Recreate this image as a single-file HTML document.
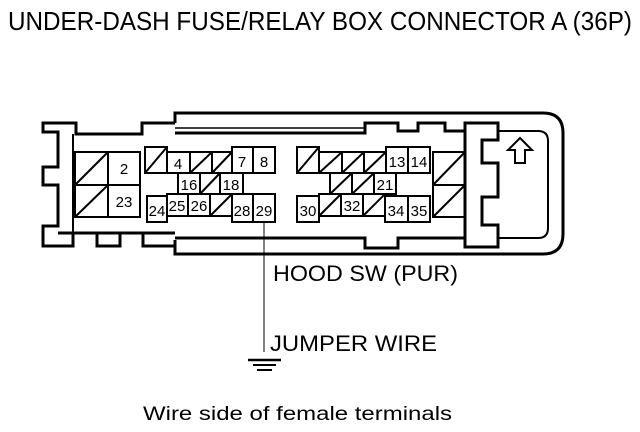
<!DOCTYPE html>
<html><head><meta charset="utf-8"><style>
html,body{margin:0;padding:0;background:#fff}
svg{display:block}
text{font-family:"Liberation Sans",sans-serif;fill:#000}
</style></head><body>
<svg width="640" height="432" viewBox="0 0 640 432" xmlns="http://www.w3.org/2000/svg">
<text x="8" y="30" font-size="26" textLength="624" lengthAdjust="spacingAndGlyphs">UNDER-DASH FUSE/RELAY BOX CONNECTOR A (36P)</text>
<g fill="none" stroke="#000" stroke-width="3" stroke-linejoin="miter">
<path d="M175,123 H142 V134 H76 V123 H43 V132 H58 V167 H43 V185 H58 V226 H43 V246 H73 V233 H97 V246 H120 V233 H143 V246 H175"/>
<line x1="73" y1="134" x2="73" y2="233" stroke-width="2"/>
<line x1="58" y1="233" x2="175" y2="233" stroke-width="3"/>
<path d="M175,123 V113 H543 Q563,113 563,133 V234 Q563,254 543,254 H175 V240"/>
<path d="M175,128 H365" stroke-width="1.5"/>
<path d="M175,133 H365 V123 H398 V131 H418 V123 H445 V131 H465 V123 H498 V140 H482 V163 H498 V197 H482 V225 H498 V247 H465 V238 H398 V248 H365 V238 H175"/>
<path d="M498,131 H538 Q548,131 548,141 V228 Q548,238 538,238 H498" stroke-width="2"/>
<line x1="465" y1="123" x2="465" y2="247"/>
</g>
<g fill="none" stroke="#000" stroke-width="2">
<rect x="75" y="152" width="65" height="65"/>
<line x1="108" y1="152" x2="108" y2="217"/><line x1="75" y1="185" x2="140" y2="185"/>
<line x1="75" y1="185" x2="108" y2="152"/><line x1="75" y1="217" x2="108" y2="185"/>
<rect x="433" y="152" width="32" height="65"/><line x1="433" y1="185" x2="465" y2="185"/>
<line x1="433" y1="185" x2="465" y2="152"/><line x1="433" y1="217" x2="465" y2="185"/>
<rect x="145" y="147" width="22" height="26"/><line x1="145" y1="173" x2="167" y2="147"/>
<rect x="167" y="152" width="23" height="21"/>
<rect x="190" y="152" width="22" height="21"/><line x1="190" y1="173" x2="212" y2="152"/>
<rect x="212" y="152" width="20" height="21"/><line x1="212" y1="173" x2="232" y2="152"/>
<rect x="232" y="147" width="21" height="26"/><rect x="253" y="147" width="22" height="26"/>
<rect x="178" y="173" width="22" height="21"/>
<rect x="200" y="173" width="20" height="21"/><line x1="200" y1="194" x2="220" y2="173"/>
<rect x="220" y="173" width="23" height="21"/>
<rect x="147" y="196" width="20" height="26"/>
<rect x="167" y="194" width="21" height="22"/><rect x="188" y="194" width="22" height="22"/>
<rect x="210" y="194" width="22" height="22"/><line x1="210" y1="216" x2="232" y2="194"/>
<rect x="232" y="194" width="21" height="28"/><rect x="253" y="194" width="22" height="28"/>
<rect x="297" y="147" width="22" height="26"/><line x1="297" y1="173" x2="319" y2="147"/>
<rect x="319" y="152" width="23" height="21"/><line x1="319" y1="173" x2="342" y2="152"/>
<rect x="342" y="152" width="22" height="21"/><line x1="342" y1="173" x2="364" y2="152"/>
<rect x="364" y="152" width="22" height="21"/><line x1="364" y1="173" x2="386" y2="152"/>
<rect x="386" y="147" width="22" height="26"/><rect x="408" y="147" width="22" height="26"/>
<rect x="330" y="173" width="22" height="21"/><line x1="330" y1="194" x2="352" y2="173"/>
<rect x="352" y="173" width="22" height="21"/><line x1="352" y1="194" x2="374" y2="173"/>
<rect x="374" y="173" width="22" height="21"/>
<rect x="297" y="196" width="22" height="26"/>
<rect x="319" y="194" width="22" height="22"/><line x1="319" y1="216" x2="341" y2="194"/>
<rect x="341" y="194" width="22" height="22"/>
<rect x="363" y="194" width="22" height="22"/><line x1="363" y1="216" x2="385" y2="194"/>
<rect x="385" y="196" width="23" height="26"/><rect x="408" y="196" width="22" height="26"/>
<path d="M520,138 L532,150 H525 V163 H515 V150 H508 Z"/>
</g>
<g font-size="15" text-anchor="middle">
<text x="124" y="174">2</text><text x="124" y="207">23</text>
<text x="178" y="169">4</text><text x="242" y="167">7</text><text x="264" y="167">8</text>
<text x="189" y="190">16</text><text x="231" y="190">18</text>
<text x="157" y="216">24</text><text x="177" y="211">25</text><text x="199" y="211">26</text>
<text x="242" y="216">28</text><text x="264" y="216">29</text>
<text x="397" y="167">13</text><text x="419" y="167">14</text><text x="385" y="190">21</text>
<text x="308" y="216">30</text><text x="352" y="211">32</text><text x="396" y="216">34</text><text x="419" y="216">35</text>
</g>
<g stroke="#000" fill="none">
<line x1="264" y1="222" x2="264" y2="352" stroke-width="1"/>
<line x1="248" y1="360" x2="281" y2="360" stroke-width="2.5"/>
<line x1="253" y1="365" x2="276" y2="365" stroke-width="2"/>
<line x1="257" y1="370" x2="272" y2="370" stroke-width="2"/>
</g>
<text x="273" y="281" font-size="22" textLength="185" lengthAdjust="spacingAndGlyphs">HOOD SW (PUR)</text>
<text x="270" y="351" font-size="22" textLength="167" lengthAdjust="spacingAndGlyphs">JUMPER WIRE</text>
<text x="143" y="420" font-size="19" textLength="309" lengthAdjust="spacingAndGlyphs">Wire side of female terminals</text>
</svg>
</body></html>
